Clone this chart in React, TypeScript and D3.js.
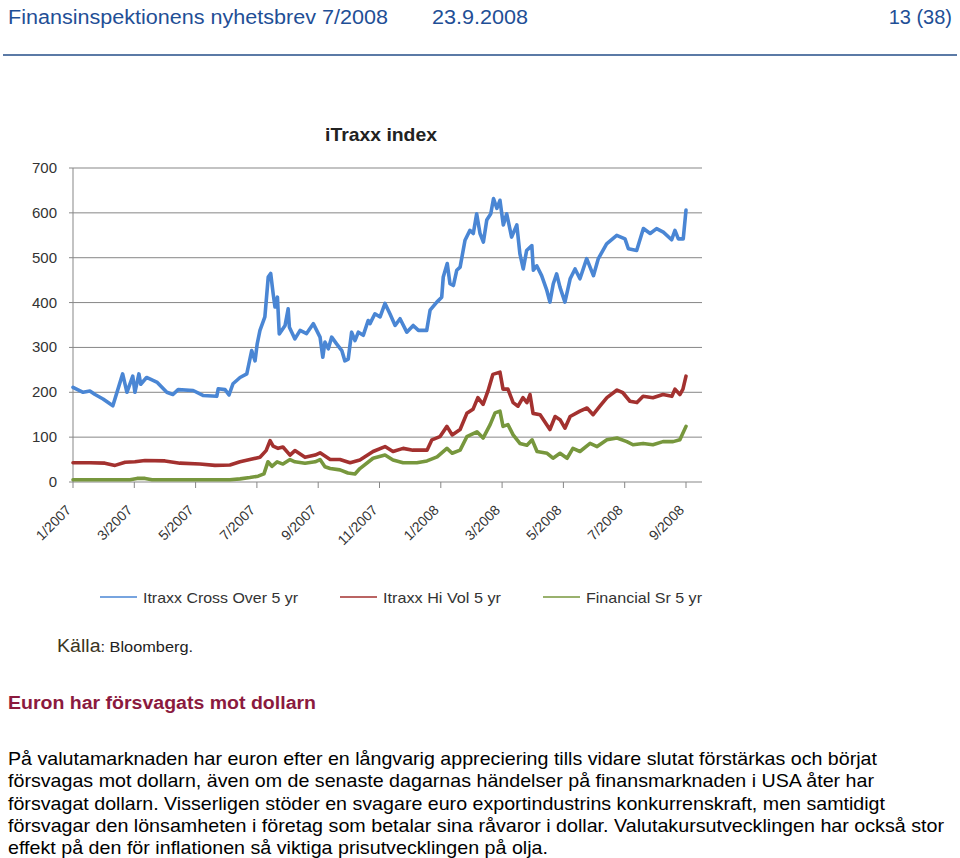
import React from "react";
import * as d3 from "d3";

// ---- data (t = months since Jan 2007, v = index level) ----
const yTicks = [0, 100, 200, 300, 400, 500, 600, 700];
const xTickLabels = ["1/2007", "3/2007", "5/2007", "7/2007", "9/2007", "11/2007", "1/2008", "3/2008", "5/2008", "7/2008", "9/2008"];

const crossOver: [number, number][] = [
  [0.0, 211], [0.33, 200], [0.55, 203], [0.72, 195], [0.98, 185], [1.3, 170], [1.62, 241], [1.76, 200], [1.95, 236], [2.02, 200],
  [2.15, 241], [2.21, 218], [2.4, 233], [2.75, 222], [3.06, 200], [3.26, 195], [3.43, 206], [3.92, 204], [4.24, 193], [4.69, 191],
  [4.74, 208], [4.96, 206], [5.09, 194], [5.22, 219], [5.45, 233], [5.67, 241], [5.83, 293], [5.94, 270], [6.01, 308], [6.1, 338],
  [6.26, 368], [6.37, 457], [6.45, 465], [6.53, 420], [6.59, 390], [6.67, 412], [6.73, 330], [6.92, 349], [7.02, 386], [7.06, 345],
  [7.24, 319], [7.41, 338], [7.62, 331], [7.84, 353], [8.06, 323], [8.15, 278], [8.22, 312], [8.33, 297], [8.44, 323], [8.6, 308],
  [8.77, 293], [8.87, 270], [8.98, 274], [9.09, 334], [9.2, 315], [9.31, 334], [9.47, 327], [9.63, 360], [9.69, 353], [9.85, 375],
  [10.02, 368], [10.18, 398], [10.34, 375], [10.51, 349], [10.67, 364], [10.89, 334], [11.1, 349], [11.27, 338], [11.54, 338], [11.65, 383],
  [11.87, 401], [12.03, 412], [12.08, 457], [12.21, 487], [12.3, 442], [12.41, 438], [12.52, 472], [12.63, 479], [12.79, 539], [12.95, 561],
  [13.06, 554], [13.17, 598], [13.28, 554], [13.39, 535], [13.5, 584], [13.63, 598], [13.72, 632], [13.83, 610], [13.93, 628], [14.04, 573],
  [14.15, 598], [14.31, 546], [14.48, 573], [14.58, 509], [14.69, 475], [14.8, 516], [14.97, 527], [15.02, 472], [15.13, 482], [15.29, 460],
  [15.46, 427], [15.56, 401], [15.67, 442], [15.78, 464], [15.89, 434], [16.05, 401], [16.22, 453], [16.38, 475], [16.54, 453], [16.76, 498],
  [16.98, 460], [17.14, 498], [17.41, 531], [17.74, 550], [18.01, 542], [18.12, 520], [18.39, 516], [18.61, 565], [18.83, 554], [19.04, 565],
  [19.26, 557], [19.53, 540], [19.64, 561], [19.75, 542], [19.91, 542], [20.0, 606],
];

const hiVol: [number, number][] = [
  [0.0, 43], [0.55, 43], [1.04, 42], [1.37, 37], [1.7, 44], [2.02, 45], [2.35, 48], [3.0, 47], [3.49, 42], [4.14, 40],
  [4.63, 37], [5.12, 38], [5.45, 45], [5.77, 50], [6.1, 55], [6.3, 70], [6.43, 92], [6.53, 80], [6.69, 75], [6.85, 78],
  [7.08, 60], [7.24, 70], [7.57, 55], [7.9, 60], [8.06, 65], [8.39, 50], [8.71, 50], [9.04, 43], [9.36, 49], [9.79, 68],
  [10.18, 79], [10.44, 68], [10.77, 75], [11.09, 71], [11.55, 71], [11.71, 94], [11.97, 101], [12.2, 124], [12.37, 105], [12.63, 117],
  [12.85, 153], [13.05, 162], [13.21, 188], [13.38, 173], [13.54, 203], [13.7, 240], [13.93, 245], [14.03, 207], [14.19, 207], [14.36, 177],
  [14.52, 169], [14.68, 188], [14.81, 177], [14.91, 195], [15.01, 153], [15.24, 150], [15.56, 117], [15.73, 146], [15.89, 139], [16.05, 120],
  [16.22, 146], [16.54, 158], [16.77, 165], [16.97, 150], [17.19, 169], [17.42, 188], [17.75, 205], [17.94, 199], [18.17, 180], [18.4, 177],
  [18.6, 191], [18.92, 188], [19.25, 195], [19.54, 191], [19.64, 207], [19.8, 195], [19.9, 207], [20.0, 236],
];

const financial: [number, number][] = [
  [0.0, 5], [0.88, 5], [1.86, 5], [2.09, 8], [2.35, 8], [2.58, 5], [4.14, 5], [5.12, 5], [5.45, 7], [5.77, 10],
  [6.04, 13], [6.23, 18], [6.36, 45], [6.49, 35], [6.66, 45], [6.85, 40], [7.08, 50], [7.24, 45], [7.57, 42], [7.9, 45],
  [8.06, 50], [8.22, 34], [8.39, 30], [8.71, 27], [8.97, 20], [9.2, 18], [9.36, 30], [9.79, 53], [10.18, 60], [10.44, 49],
  [10.77, 43], [11.22, 43], [11.55, 47], [11.88, 56], [12.2, 75], [12.37, 64], [12.63, 71], [12.85, 101], [13.18, 112], [13.38, 98],
  [13.61, 128], [13.77, 154], [13.93, 158], [14.03, 124], [14.19, 128], [14.36, 105], [14.58, 86], [14.81, 82], [14.98, 94], [15.14, 68],
  [15.47, 64], [15.66, 53], [15.89, 64], [16.12, 53], [16.31, 75], [16.54, 68], [16.87, 86], [17.1, 79], [17.42, 94], [17.75, 98],
  [18.07, 90], [18.27, 83], [18.6, 86], [18.92, 83], [19.25, 90], [19.58, 90], [19.8, 94], [20.0, 124],
];

const seriesNames = ["Itraxx Cross Over 5 yr", "Itraxx Hi Vol 5 yr", "Financial Sr 5 yr"];
const seriesColors = ["#4a86d4", "#a3312f", "#77973d"];

const paragraphLines = [
  "På valutamarknaden har euron efter en långvarig appreciering tills vidare slutat förstärkas och börjat",
  "försvagas mot dollarn, även om de senaste dagarnas händelser på finansmarknaden i USA åter har",
  "försvagat dollarn. Visserligen stöder en svagare euro exportindustrins konkurrenskraft, men samtidigt",
  "försvagar den lönsamheten i företag som betalar sina råvaror i dollar. Valutakursutvecklingen har också stor",
  "effekt på den för inflationen så viktiga prisutvecklingen på olja.",
];
const paragraphWidths = [869, 866, 877, 936, 540];

export default function App() {
  const left = 73, right = 702, top = 168, bottom = 482;
  const x = d3.scaleLinear().domain([0, 20]).range([left, 686]);
  const y = d3.scaleLinear().domain([0, 700]).range([bottom, top]);
  const line = d3.line<[number, number]>().x((d) => x(d[0])).y((d) => y(d[1]));
  const series = [crossOver, hiVol, financial];
  const xTicks = d3.range(0, 21, 2);
  const legendX = [100, 340, 543];
  const legendW = [155, 118, 116];
  const sans = "'Liberation Sans', Arial, sans-serif";

  return (
    <svg width={960} height={858} style={{ position: "absolute", left: 0, top: 0, background: "#fff" }} fontFamily={sans}>
      <rect width={960} height={858} fill="#fff" />
      {/* header */}
      <text x={8} y={24} fontSize={20} fill="#1f4f96" textLength={380} lengthAdjust="spacingAndGlyphs">Finansinspektionens nyhetsbrev 7/2008</text>
      <text x={432} y={24} fontSize={20} fill="#1f4f96" textLength={96} lengthAdjust="spacingAndGlyphs">23.9.2008</text>
      <text x={952} y={24} fontSize={20} fill="#1f4f96" textAnchor="end">13 (38)</text>
      <line x1={3} x2={957} y1={55} y2={55} stroke="#5b7aa6" strokeWidth={2} />

      {/* chart title */}
      <text x={381} y={141} fontSize={19} fontWeight="bold" fill="#222" textAnchor="middle" textLength={112} lengthAdjust="spacingAndGlyphs">iTraxx index</text>

      {/* grid */}
      {yTicks.map((t) => (
        <g key={t}>
          <line x1={left - 4} x2={right} y1={y(t)} y2={y(t)} stroke="#878787" strokeWidth={1} />
          <text x={57} y={y(t) + 5} fontSize={15} fill="#333" textAnchor="end">{t}</text>
        </g>
      ))}
      <line x1={left} x2={left} y1={top} y2={bottom} stroke="#878787" strokeWidth={1} />
      {xTicks.map((t, i) => (
        <g key={t}>
          <line x1={x(t)} x2={x(t)} y1={bottom} y2={bottom + 6} stroke="#878787" strokeWidth={1} />
          <text transform={`translate(${x(t) - 1},${bottom + 29}) rotate(-45)`} fontSize={14} fill="#333" textAnchor="end">{xTickLabels[i]}</text>
        </g>
      ))}

      {/* series */}
      {series.map((s, i) => (
        <path key={i} d={line(s) || ""} fill="none" stroke={seriesColors[i]} strokeWidth={3.6} strokeLinejoin="round" strokeLinecap="round" />
      ))}

      {/* legend */}
      {seriesNames.map((n, i) => (
        <g key={n}>
          <line x1={legendX[i]} x2={legendX[i] + 37} y1={597} y2={597} stroke={seriesColors[i]} strokeWidth={1.5} />
          <text x={legendX[i] + 43} y={602.5} fontSize={15} fill="#333" textLength={legendW[i]} lengthAdjust="spacingAndGlyphs">{n}</text>
        </g>
      ))}

      {/* source */}
      <text x={57} y={652} fill="#3b3522" textLength={136} lengthAdjust="spacingAndGlyphs">
        <tspan fontSize={18}>Källa</tspan>
        <tspan fontSize={15} fill="#222">: Bloomberg.</tspan>
      </text>

      {/* heading + paragraph */}
      <text x={8} y={709} fontSize={18} fontWeight="bold" fill="#8b1a3e" textLength={308} lengthAdjust="spacingAndGlyphs">Euron har försvagats mot dollarn</text>
      {paragraphLines.map((l, i) => (
        <text key={i} x={8} y={765 + i * 22.3} fontSize={19} fill="#000" textLength={paragraphWidths[i]} lengthAdjust="spacingAndGlyphs">{l}</text>
      ))}
    </svg>
  );
}
